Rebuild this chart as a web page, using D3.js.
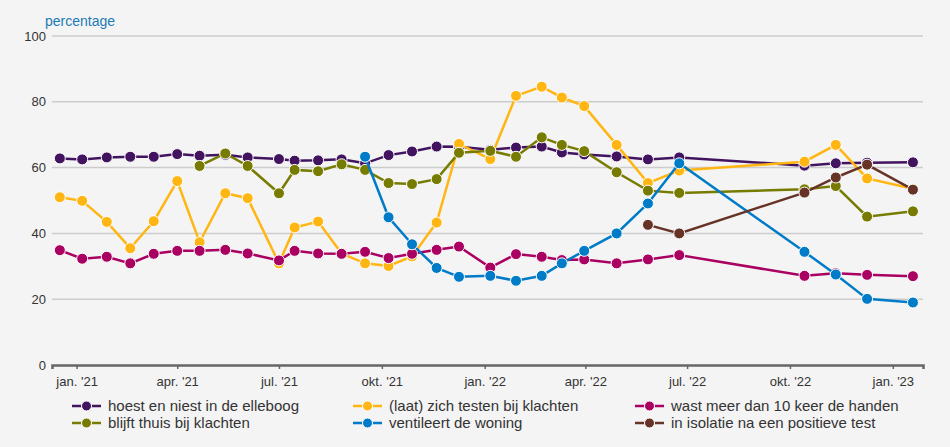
<!DOCTYPE html>
<html>
<head>
<meta charset="utf-8">
<script src="https://cdn.jsdelivr.net/npm/d3@7"></script>
<style>
  html, body { margin: 0; padding: 0; background: #f4f4f4; }
  svg { display: block; font-family: Arial, "Liberation Sans", sans-serif; }
</style>
</head>
<body>
<script>
// survey rounds (date of each measurement)
var rounds = ["2020-12-17","2021-01-06","2021-01-28","2021-02-18","2021-03-11","2021-04-01",
  "2021-04-21","2021-05-14","2021-06-03","2021-07-01","2021-07-15","2021-08-05","2021-08-26",
  "2021-09-16","2021-10-07","2021-10-28","2021-11-19","2021-12-09","2022-01-06","2022-01-29",
  "2022-02-21","2022-03-11","2022-03-31","2022-04-29","2022-05-27","2022-06-24","2022-10-14",
  "2022-11-11","2022-12-09","2023-01-19"];

var hoest = [62.8,62.5,63.1,63.3,63.3,64.1,63.6,63.9,63.1,62.6,62.1,62.2,62.5,61.3,63.8,64.9,66.4,66.3,65.4,66.1,66.4,64.6,64.0,63.4,62.5,63.1,60.6,61.3,61.5,61.6];
var testen = [51.0,49.9,43.5,35.5,43.7,55.9,37.3,52.2,50.7,30.9,41.8,43.6,33.9,30.9,30.1,33.0,43.3,67.2,62.6,81.8,84.6,81.3,78.7,66.9,55.3,59.1,61.8,66.9,56.7,53.6];
var handen = [34.9,32.3,32.9,30.9,33.8,34.7,34.7,35.0,33.9,31.8,34.7,33.9,33.8,34.4,32.5,33.8,35.0,36.0,29.6,33.7,32.9,31.9,32.1,30.9,32.1,33.4,27.1,27.9,27.4,27.0];
var thuis = [null,null,null,null,null,null,60.5,64.3,60.5,52.2,59.3,58.9,61.0,59.3,55.3,55.0,56.5,64.5,65.1,63.3,69.2,66.9,65.0,58.6,53.0,52.3,53.4,54.4,45.1,46.7];
var ventileert = [null,null,null,null,null,null,null,null,null,null,null,null,null,63.3,44.9,36.7,29.5,26.8,27.1,25.6,27.1,30.9,34.7,40.0,49.1,61.3,34.4,27.5,20.1,19.0];
var isolatie = [null,null,null,null,null,null,null,null,null,null,null,null,null,null,null,null,null,null,null,null,null,null,null,null,42.6,40.0,52.4,57.0,60.9,53.3];

var seriesNames = ["hoest en niest in de elleboog","(laat) zich testen bij klachten","wast meer dan 10 keer de handen",
  "blijft thuis bij klachten","ventileert de woning","in isolatie na een positieve test"];
var seriesColors = ["#42145f","#ffb612","#a90061","#777c00","#007bc7","#673327"];
var seriesValues = [hoest, testen, handen, thuis, ventileert, isolatie];

var yTicks = [0,20,40,60,80,100];
var xTicks = ["2021-01-01","2021-04-01","2021-07-01","2021-10-01","2022-01-01","2022-04-01","2022-07-01","2022-10-01","2023-01-01"];
var monthNames = ["jan.","feb.","mrt.","apr.","mei","jun.","jul.","aug.","sep.","okt.","nov.","dec."];

var parse = d3.timeParse("%Y-%m-%d");
var dates = rounds.map(parse);

var width = 950, height = 447;
var svg = d3.select("body").append("svg")
  .attr("width", width)
  .attr("height", height);

var x = d3.scaleTime()
  .domain([parse("2020-12-10"), parse("2023-01-28")])
  .range([52, 923]);
var y = d3.scaleLinear().domain([0, 100]).range([365, 36]);

// grid lines
svg.append("g").selectAll("line")
  .data(yTicks.filter(function(d) { return d > 0; }))
  .enter().append("line")
  .attr("x1", 52).attr("x2", 923)
  .attr("y1", function(d) { return y(d); })
  .attr("y2", function(d) { return y(d); })
  .attr("stroke", "#cccccc")
  .attr("stroke-width", 1.5);

// y labels
svg.append("g").selectAll("text")
  .data(yTicks)
  .enter().append("text")
  .attr("x", 46)
  .attr("y", function(d) { return y(d); })
  .attr("dy", "0.35em")
  .attr("text-anchor", "end")
  .attr("font-size", 13)
  .attr("fill", "#333")
  .text(function(d) { return d; });

svg.append("text")
  .attr("x", 45).attr("y", 26)
  .attr("font-size", 14)
  .attr("fill", "#1c7bb5")
  .text("percentage");

// x axis
var xAxis = d3.axisBottom(x)
  .tickValues(xTicks.map(parse))
  .tickSize(4)
  .tickPadding(8)
  .tickFormat(function(d) { return monthNames[d.getMonth()] + " '" + String(d.getFullYear()).slice(2); });

var gx = svg.append("g").attr("transform", "translate(0,365)").call(xAxis);
gx.select(".domain").attr("stroke", "#666").attr("stroke-width", 2.5);
gx.selectAll(".tick line").attr("stroke", "#666").attr("stroke-width", 1.5);
gx.selectAll(".tick text").attr("font-size", 13).attr("fill", "#333").attr("font-family", "Arial, 'Liberation Sans', sans-serif");

// lines and points
var line = d3.line()
  .defined(function(d) { return d.v != null; })
  .x(function(d) { return x(d.date); })
  .y(function(d) { return y(d.v); });

seriesValues.forEach(function(vals, i) {
  var pts = vals.map(function(v, j) { return { date: dates[j], v: v }; });
  var g = svg.append("g");
  g.append("path")
    .datum(pts)
    .attr("d", line)
    .attr("fill", "none")
    .attr("stroke", seriesColors[i])
    .attr("stroke-width", 2.5);
  g.selectAll("circle")
    .data(pts.filter(function(d) { return d.v != null; }))
    .enter().append("circle")
    .attr("cx", function(d) { return x(d.date); })
    .attr("cy", function(d) { return y(d.v); })
    .attr("r", 5.5)
    .attr("fill", seriesColors[i])
    .attr("stroke", "#ffffff")
    .attr("stroke-width", 1);
});

// legend
var legendCols = [72, 353, 635];
var legendRows = [406, 423];
var legend = svg.append("g");
seriesNames.forEach(function(name, i) {
  var lx = legendCols[i % 3], ly = legendRows[Math.floor(i / 3)];
  var item = legend.append("g").attr("transform", "translate(" + lx + "," + ly + ")");
  item.append("line")
    .attr("x1", 0).attr("x2", 29)
    .attr("y1", 0).attr("y2", 0)
    .attr("stroke", seriesColors[i])
    .attr("stroke-width", 2.5);
  item.append("circle")
    .attr("cx", 14.5).attr("cy", 0).attr("r", 5)
    .attr("fill", seriesColors[i])
    .attr("stroke", "#ffffff")
    .attr("stroke-width", 1);
  item.append("text")
    .attr("x", 36).attr("y", 0)
    .attr("dy", "0.35em")
    .attr("font-size", 15)
    .attr("fill", "#333")
    .text(name);
});
</script>
</body>
</html>
